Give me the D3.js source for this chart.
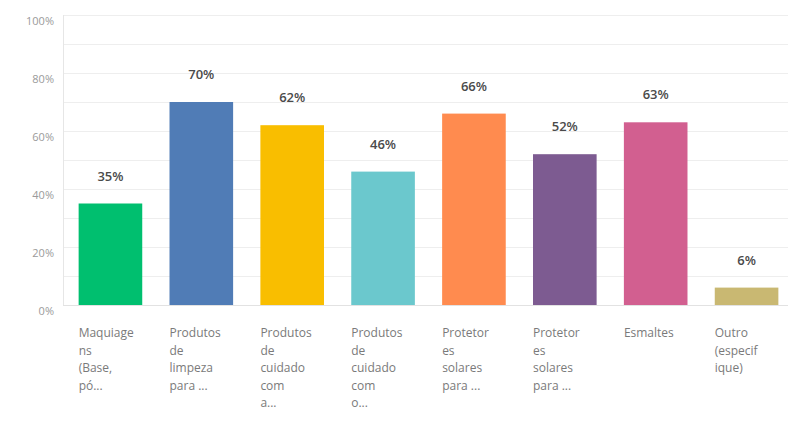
<!DOCTYPE html>
<html>
<head>
<meta charset="utf-8">
<script src="https://cdn.jsdelivr.net/npm/d3@7"></script>
<style>
  html, body { margin: 0; padding: 0; background: #fff; }
  svg { display: block; }
</style>
</head>
<body>
<svg id="chart" width="788" height="423"></svg>
<script>
// Answer choices (already wrapped into display lines) and response shares
const categoryLines = [
  ["Maquiage", "ns", "(Base,", "pó..."],
  ["Produtos", "de", "limpeza", "para ..."],
  ["Produtos", "de", "cuidado", "com", "a..."],
  ["Produtos", "de", "cuidado", "com", "o..."],
  ["Protetor", "es", "solares", "para ..."],
  ["Protetor", "es", "solares", "para ..."],
  ["Esmaltes"],
  ["Outro", "(especif", "ique)"]
];
const values = [35, 70, 62, 46, 66, 52, 63, 6];
const barColors = ["#00BF6F", "#507CB6", "#F9BE00", "#6BC8CD", "#FF8B4F", "#7D5B91", "#D25F90", "#C9B872"];
const tickValues = [0, 20, 40, 60, 80, 100];
const gridValues = [10, 20, 30, 40, 50, 60, 70, 80, 90, 100];

const svg = d3.select("#chart");
const font = "'Open Sans', 'Noto Sans', sans-serif";

const x = d3.scaleBand()
  .domain(d3.range(values.length))
  .range([65, 792])
  .paddingInner(0.3)
  .paddingOuter(0.15);

const y = d3.scaleLinear().domain([0, 100]).range([305, 15]);

// horizontal gridlines
svg.append("g")
  .selectAll("line")
  .data(gridValues)
  .join("line")
  .attr("x1", 63).attr("x2", 788)
  .attr("y1", d => y(d) + 0.5).attr("y2", d => y(d) + 0.5)
  .attr("stroke", "#eeeeee")
  .attr("stroke-width", 1);

// baseline and vertical axis line
svg.append("line")
  .attr("x1", 63).attr("x2", 788)
  .attr("y1", y(0) + 0.5).attr("y2", y(0) + 0.5)
  .attr("stroke", "#e2e2e2");
svg.append("line")
  .attr("x1", 63.5).attr("x2", 63.5)
  .attr("y1", y(100)).attr("y2", y(0))
  .attr("stroke", "#e6e6e6");

// y tick labels
svg.append("g")
  .selectAll("text")
  .data(tickValues)
  .join("text")
  .attr("x", 54)
  .attr("y", d => y(d) + 10)
  .attr("text-anchor", "end")
  .attr("font-family", font)
  .attr("font-size", 11)
  .attr("fill", "#9a9a9a")
  .text(d => d + "%");

// bars
svg.append("g")
  .selectAll("rect")
  .data(values)
  .join("rect")
  .attr("x", (d, i) => x(i))
  .attr("y", d => y(d))
  .attr("width", x.bandwidth())
  .attr("height", d => y(0) - y(d))
  .attr("fill", (d, i) => barColors[i]);

// value labels above bars
svg.append("g")
  .selectAll("text")
  .data(values)
  .join("text")
  .attr("x", (d, i) => x(i) + x.bandwidth() / 2)
  .attr("y", d => y(d) - 23)
  .attr("text-anchor", "middle")
  .attr("font-family", font)
  .attr("font-size", 13)
  .attr("font-weight", 600)
  .attr("fill", "#4a4a4a")
  .text(d => d + "%");

// category labels, left-aligned under each bar
const cat = svg.append("g")
  .selectAll("text")
  .data(categoryLines)
  .join("text")
  .attr("font-family", font)
  .attr("font-size", 12)
  .attr("fill", "#7a7a7a");

cat.each(function (lines, i) {
  d3.select(this).selectAll("tspan")
    .data(lines)
    .join("tspan")
    .attr("x", x(i))
    .attr("y", (l, j) => 337 + j * 17.5)
    .text(l => l);
});
</script>
</body>
</html>
